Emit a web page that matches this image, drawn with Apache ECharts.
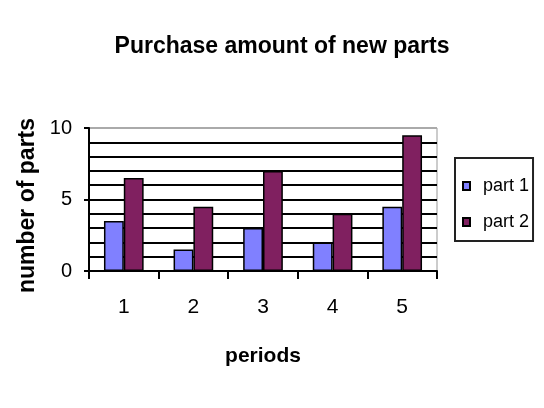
<!DOCTYPE html>
<html>
<head>
<meta charset="utf-8">
<script src="https://cdn.jsdelivr.net/npm/echarts@6/dist/echarts.min.js"></script>
<style>
  html, body { margin: 0; padding: 0; background: #fff; }
  #chart { width: 544px; height: 408px; }
</style>
</head>
<body>
<div id="chart"></div>
<script>
// Purchases per period for two parts
const periods = ['1', '2', '3', '4', '5'];
const part1 = [3.5, 1.5, 3, 2, 4.5];
const part2 = [6.5, 4.5, 7, 4, 9.5];
const seriesNames = ['part 1', 'part 2'];

const FONT = '"Liberation Sans", Arial, sans-serif';
const chart = echarts.init(document.getElementById('chart'), null, { renderer: 'canvas' });

chart.setOption({
  backgroundColor: '#fff',
  animation: false,
  title: {
    text: 'Purchase amount of new parts',
    left: 277,
    textAlign: 'center',
    top: 30,
    textStyle: { fontFamily: FONT, fontSize: 23, fontWeight: 'bold', color: '#000' }
  },
  legend: {
    data: seriesNames,
    orient: 'vertical',
    left: 455,
    top: 158,
    width: 78,
    padding: [19, 4, 10, 7],
    itemGap: 18,
    itemWidth: 7,
    itemHeight: 8,
    icon: 'rect',
    borderColor: '#222',
    borderWidth: 2,
    textStyle: { fontFamily: FONT, fontSize: 18, color: '#000', padding: [0, 0, 0, 8] }
  },
  grid: {
    left: 89,
    right: 107,
    top: 128,
    bottom: 137,
    show: true,
    borderColor: '#999',
    borderWidth: 1,
    backgroundColor: '#fff'
  },
  xAxis: {
    type: 'category',
    data: periods,
    name: 'periods',
    nameLocation: 'middle',
    nameGap: 75,
    nameTextStyle: { fontFamily: FONT, fontSize: 21, fontWeight: 'bold', color: '#000' },
    axisLine: { lineStyle: { color: '#000', width: 2 } },
    axisTick: { show: true, length: 8, lineStyle: { color: '#000', width: 2 } },
    axisLabel: { margin: 26, fontFamily: FONT, fontSize: 21, color: '#000' }
  },
  yAxis: {
    type: 'value',
    min: 0,
    max: 10,
    interval: 5,
    name: 'number of parts',
    nameLocation: 'middle',
    nameGap: 45,
    nameTextStyle: { fontFamily: FONT, fontSize: 23, fontWeight: 'bold', color: '#000', padding: [0, 12, 0, 0] },
    axisLine: { show: true, lineStyle: { color: '#000', width: 2 } },
    axisTick: { show: true, length: 5, lineStyle: { color: '#000', width: 2 } },
    axisLabel: { margin: 17, fontFamily: FONT, fontSize: 20, color: '#000' },
    splitLine: { show: true, lineStyle: { color: ['#000', '#000', '#aaa'], width: 2 } },
    minorTick: { show: false, splitNumber: 5 },
    minorSplitLine: { show: true, lineStyle: { color: '#000', width: 2 } }
  },
  series: [
    {
      name: seriesNames[0],
      type: 'bar',
      data: part1,
      barGap: '0%',
      barCategoryGap: '43%',
      itemStyle: { color: '#8080ff', borderColor: '#000', borderWidth: 1.5 }
    },
    {
      name: seriesNames[1],
      type: 'bar',
      data: part2,
      barGap: '0%',
      barCategoryGap: '43%',
      itemStyle: { color: '#802060', borderColor: '#000', borderWidth: 1.5 }
    }
  ]
});
</script>
</body>
</html>
